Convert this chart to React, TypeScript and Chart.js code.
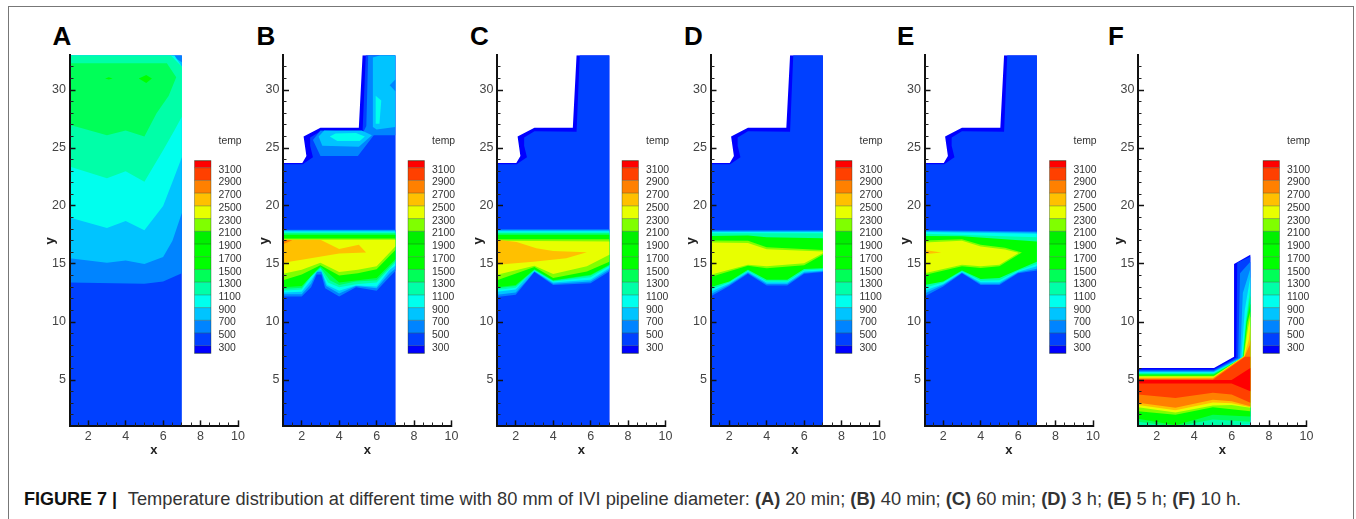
import React, { useEffect, useRef } from "react";
import { Chart, registerables } from "chart.js";

Chart.register(...registerables);

type P = number[][];

const FONT = '"Liberation Sans", Arial, sans-serif';

// Contour band colours, from the hottest (0) to the coolest (15)
const bandColors = ["#ff0000", "#ff4000", "#ff8000", "#ffc000", "#e8ff00", "#80ff00", "#00f000", "#00ff00", "#00ff00", "#00ff58", "#00ffa8", "#00ffee", "#00c4ff", "#0084ff", "#0040ff", "#0000ff"];
const legendLevels = [3100, 2900, 2700, 2500, 2300, 2100, 1900, 1700, 1500, 1300, 1100, 900, 700, 500, 300];
const panelLetters = ["A", "B", "C", "D", "E", "F"];
const xMajor = [2, 4, 6, 8, 10];
const xMinor = [1.5, 2.5, 3, 3.5, 4.5, 5, 5.5, 6.5, 7, 7.5, 8.5, 9, 9.5];
const yMajor = [5, 10, 15, 20, 25, 30];
const yMinor = [2, 3, 4, 6, 7, 8, 9, 11, 12, 13, 14, 16, 17, 18, 19, 21, 22, 23, 24, 26, 27, 28, 29, 31, 32];

const band = (top: P, bottom: P): P => [...top, ...bottom.slice().reverse()];
const flat = (a: number, b: number = a): P => [[1, a], [7, b]];

// Domain outlines
const fullDomain: P = [[1, 1], [7, 1], [7, 33], [1, 33]];
const stepOuter: P = [[1, 1], [7, 1], [7, 33], [5.25, 33], [5.05, 26.75], [3, 26.75], [2.1, 26], [2.25, 24.3], [2.03, 23.7], [1, 23.7]];
const stepInner: P = [[1, 1], [7, 1], [7, 33], [5.42, 33], [5.25, 26.4], [3, 26.45], [2.45, 25.9], [2.45, 25.2], [2.6, 24.2], [2.05, 23.6], [1, 23.6]];

// Panel A isotherms
const a14 = fullDomain;
const a13: P = [[1, 13.4], [5, 13.3], [6, 13.5], [7, 14.2], [7, 33], [1, 33]];
const a12: P = [[1, 15.5], [3, 15.1], [4, 15.3], [5, 15], [6, 15.6], [6.5, 17], [7, 19.4], [7, 32.4], [6.4, 33], [1, 33]];
const a11: P = [[1, 19], [3, 18.1], [4, 18.7], [5, 17.9], [6, 20], [6.6, 22.5], [7, 24.2], [7, 32], [6.6, 33], [1, 33]];
const a10: P = [[1, 23.4], [3, 22.4], [4, 23], [5, 22.1], [6, 24.8], [6.6, 26.5], [7, 27.7], [7, 32], [6.4, 33], [1, 33]];
const a9: P = [[1, 27], [3, 26.1], [4, 26.5], [5, 26], [5.65, 28], [6.3, 29.5], [6.7, 31.1], [6.2, 32.3], [1, 32.3]];
const a8a: P = [[4.7, 31], [5.1, 31.3], [5.4, 31], [5.1, 30.6]];
const a8b: P = [[2.9, 31], [3.1, 31.1], [3.3, 31], [3.1, 30.9]];

// Panel B upper chamber
const bBlob13: P = [[3, 24.3], [5, 24.3], [5.85, 26.1], [7, 26.1], [7, 33], [5.55, 33], [5.45, 26.9], [5.3, 26.4], [5, 26.4], [3, 26.5], [2.6, 25.7]];
const bBlob12: P = [[2.9, 26], [3.1, 25.2], [5.05, 25.1], [5.75, 26.1], [5.2, 26.5], [3.2, 26.5]];
const bCol12: P = [[5.8, 26.8], [6, 26.6], [7, 26.8], [7, 33], [6.2, 33], [5.8, 32.8]];
const bNotch13: P = [[7, 30.9], [6.7, 30.4], [7, 29.9]];
const bBlob11: P = [[3.5, 26], [3.9, 25.6], [5.1, 25.6], [5.37, 26], [4.9, 26.3], [3.8, 26.25]];
const bCol11: P = [[5.95, 29.5], [6.25, 29.1], [6.15, 27.1], [5.95, 27.1]];

// Panel B melt band
const b13 = band(flat(17.95), [[1, 12.2], [2, 12.2], [2.5, 13], [2.8, 14.1], [3.05, 14.1], [3.25, 12.9], [4, 12.2], [4.9, 13], [6, 12.7], [6.7, 13.9], [7, 14.4]]);
const b12 = band(flat(17.88), [[1, 12.4], [2, 12.4], [2.5, 13.3], [2.8, 14.3], [3.05, 14.3], [3.3, 13.1], [4, 12.45], [4.9, 13.1], [6, 12.9], [6.7, 14.2], [7, 14.6]]);
const b11 = band(flat(17.8), [[1, 12.55], [2, 12.6], [2.5, 13.6], [2.85, 14.45], [3.05, 14.45], [3.35, 13.2], [4, 12.7], [4.9, 13.15], [6, 13.05], [6.7, 14.5], [7, 14.85]]);
const b10 = band(flat(17.72), [[1, 12.7], [2, 12.8], [2.5, 13.9], [3, 14.6], [3.4, 13.4], [4, 13], [4.9, 13.25], [6, 13.4], [7, 15.1]]);
const b9 = band(flat(17.62), [[1, 12.85], [2, 12.95], [2.5, 14], [3, 14.7], [3.5, 13.6], [4, 13.2], [4.9, 13.5], [6, 13.6], [7, 15.25]]);
const b8 = band(flat(17.5), [[1, 13], [2, 13.1], [3, 14.8], [4, 13.4], [5, 13.6], [6, 13.8], [7, 15.4]]);
const b5 = band(flat(17.2), [[1, 13.6], [2, 14.1], [3, 14.9], [4, 14], [5, 14.2], [6, 14.55], [7, 16.2]]);
const b4 = band(flat(17.1), [[1, 14.15], [2, 14.5], [3, 15.1], [4, 14.3], [5, 14.5], [6, 14.8], [7, 16.5]]);
const b3: P = [[1, 17.1], [3, 17.1], [4, 16.3], [5.05, 16.65], [5.44, 16], [4, 15.9], [2, 15.36], [1, 15.1]];
const b2: P = [[1, 17.1], [1.5, 17.05], [1, 16.7]];

// Panel C melt band
const c13 = band(flat(18), [[1, 12.15], [2, 12.35], [3, 14.3], [4, 13.2], [6, 13.35], [7, 14.35]]);
const c12 = band(flat(17.9), [[1, 12.35], [2, 12.55], [2.6, 13.6], [3, 14.35], [4, 13.3], [6, 13.5], [7, 14.5]]);
const c11 = band(flat(17.82), [[1, 12.6], [2, 12.8], [2.7, 14], [3, 14.4], [4, 13.4], [6, 13.65], [7, 14.65]]);
const c10 = band(flat(17.72), [[1, 12.75], [2, 12.95], [3, 14.45], [4, 13.5], [6, 13.85], [7, 14.8]]);
const c9 = band(flat(17.62), [[1, 12.9], [2, 13.1], [3, 14.5], [4, 13.55], [6, 14], [7, 14.9]]);
const c8 = band(flat(17.5), [[1, 13], [2, 13.2], [3, 14.55], [4, 13.6], [6, 14.07], [7, 14.93]]);
const c5 = band(flat(17.14), [[1, 13.6], [3, 14.75], [4, 13.8], [5.8, 14.35], [7, 15.2]]);
const c4 = band(flat(17, 16.93), [[1, 14.07], [3, 14.84], [4, 14.13], [5.8, 14.8], [7, 15.8]]);
const c3: P = [[1, 17.1], [2.05, 16.9], [3.1, 16.36], [4, 16.13], [5.8, 16.02], [4.7, 15.5], [2.94, 15.2], [1, 14.93]];

// Panel D melt band
const d13 = band(flat(17.9), [[1, 12.2], [2, 13.1], [3, 14.15], [4, 13.15], [5.1, 13.15], [6, 14.15], [7, 14.3]]);
const d12 = band(flat(17.83), [[1, 12.4], [2, 13.22], [3, 14.25], [4, 13.27], [5.1, 13.27], [6, 14.25], [7, 14.38]]);
const d11 = band(flat(17.75), [[1, 12.6], [2, 13.32], [3, 14.33], [4, 13.4], [5.1, 13.4], [6, 14.35], [7, 14.45]]);
const d10 = band(flat(17.65), [[1, 12.8], [2, 13.4], [3, 14.4], [4, 13.5], [5.1, 13.5], [6, 14.45], [7, 14.55]]);
const d8 = band([[1, 17.42], [3, 17.45], [4, 17.3], [7, 17.23]], [[1, 13], [2, 13.5], [3, 14.5], [4, 13.64], [5.1, 13.64], [6, 14.56], [7, 14.63]]);
const d5 = band([[1, 17.02], [3, 17], [4, 16.45], [7, 16.2]], [[1, 13.87], [3, 14.85], [4, 14.63], [6, 14.9], [7, 15.8]]);
const d4 = band([[1, 16.85], [3, 16.8], [4, 16.28], [7, 16.07]], [[1, 14.07], [3, 14.93], [4, 14.8], [6, 15.07], [7, 15.93]]);

// Panel E melt band
const e13 = band(flat(17.9, 17.8), [[1, 12.2], [2, 13.06], [3, 14.2], [4, 13.2], [5, 13.2], [6, 14.2], [7, 14.44]]);
const e12 = band(flat(17.83, 17.72), [[1, 12.45], [2, 13.18], [3, 14.25], [4, 13.3], [5, 13.3], [6, 14.27], [7, 14.6]]);
const e11 = band(flat(17.75, 17.6), [[1, 12.7], [2, 13.28], [3, 14.3], [4, 13.42], [5, 13.42], [6, 14.33], [7, 14.8]]);
const e10 = band(flat(17.6, 17.3), [[1, 12.95], [2, 13.4], [3, 14.37], [4, 13.55], [5, 13.6], [6, 14.42], [7, 15]]);
const e8 = band([[1, 17.42], [3, 17.4], [7, 16.94]], [[1, 13.2], [2, 13.5], [3, 14.44], [4, 13.7], [5, 13.8], [6, 14.5], [7, 15.2]]);
const e5: P = [[1, 17.02], [3, 17.14], [4, 16.65], [5.3, 16.4], [6.2, 16], [6, 15.8], [5, 14.8], [4, 14.65], [3, 14.8], [1, 14.05]];
const e4: P = [[1, 16.85], [3, 17], [4, 16.5], [5.3, 16.25], [6, 15.98], [6, 15.93], [5, 14.93], [4, 14.8], [3, 14.93], [1, 14.2]];
const e3: P = [[1, 16.2], [1.9, 16], [1, 15.85]];

// Panel F
const fOuter: P = [[1, 1], [7, 1], [7, 15.8], [6.13, 15], [6.13, 7], [5.06, 6.04], [1, 6.04]];
const floor: P = [[1, 1], [7, 1]];
const f14 = band([[1, 5.9], [5.05, 5.9], [6.25, 6.95], [6.3, 15.1], [7, 15.65]], floor);
const f13 = band([[1, 5.82], [5.05, 5.82], [6.35, 6.9], [6.45, 14.2], [7, 15.2]], floor);
const f12 = band([[1, 5.74], [5.05, 5.74], [6.45, 6.9], [6.6, 12.5], [7, 14.6]], floor);
const f11 = band([[1, 5.66], [5.05, 5.66], [6.52, 6.9], [6.7, 11], [7, 13.9]], floor);
const f10 = band([[1, 5.6], [5.05, 5.6], [6.57, 6.9], [6.75, 10], [7, 13]], [[1, 1.15], [2.5, 1], [4.5, 1], [7, 1.2]]);
const f9 = band([[1, 5.52], [5.05, 5.52], [6.6, 6.95], [6.78, 10], [7, 12.3]], [[1, 1.4], [3, 1], [5, 1.6], [7, 1.4]]);
const f8 = band([[1, 5.45], [5.05, 5.45], [6.62, 6.95], [6.8, 10], [7, 11.6]], [[1, 1.65], [3, 1.1], [5, 2], [7, 1.85]]);
const f5 = band([[1, 5.37], [5.05, 5.37], [6.64, 7], [6.85, 10], [7, 10.9]], [[1, 2.3], [3, 2], [5, 2.65], [7, 2.3]]);
const f4 = band([[1, 5.3], [5.05, 5.3], [6.66, 7.05], [6.88, 9.5], [7, 10.5]], [[1, 2.65], [3, 2.2], [5, 2.8], [6, 2.85], [7, 2.6]]);
const f3 = band([[1, 5.22], [5.03, 5.22], [6.68, 7.05], [6.92, 8.5], [7, 9.7]], [[1, 2.85], [3, 2.4], [5, 3.05], [6, 3], [7, 2.65]]);
const f2 = band([[1, 5.13], [5, 5.13], [6.7, 7.05], [6.96, 8], [7, 8.5]], [[1, 3.03], [3, 2.6], [5, 3.3], [6, 3.17], [7, 2.73]]);
const f1 = band([[1, 5.03], [5, 5.03], [6.72, 7], [7, 7]], [[1, 3.74], [3, 3.45], [5, 3.9], [6, 3.74], [7, 3.03]]);
const f0: P = [[1, 5.03], [6, 5], [7, 6.04], [7, 4.03], [6, 4.7], [1, 4.7]];

// Each layer: [band index, polygon], painted in order
const panels: [number, P][][] = [
  [[14, a14], [13, a13], [12, a12], [11, a11], [10, a10], [9, a9], [8, a8a], [8, a8b]],
  [[15, stepOuter], [14, stepInner], [13, bBlob13], [12, bBlob12], [12, bCol12], [13, bNotch13], [11, bBlob11], [11, bCol11], [13, b13], [12, b12], [11, b11], [10, b10], [9, b9], [8, b8], [5, b5], [4, b4], [3, b3], [2, b2]],
  [[15, stepOuter], [14, stepInner], [13, c13], [12, c12], [11, c11], [10, c10], [9, c9], [8, c8], [5, c5], [4, c4], [3, c3]],
  [[15, stepOuter], [14, stepInner], [13, d13], [12, d12], [11, d11], [10, d10], [8, d8], [5, d5], [4, d4]],
  [[15, stepOuter], [14, stepInner], [13, e13], [12, e12], [11, e11], [10, e10], [8, e8], [5, e5], [4, e4], [3, e3]],
  [[15, fOuter], [14, f14], [13, f13], [12, f12], [11, f11], [10, f10], [9, f9], [8, f8], [5, f5], [4, f4], [3, f3], [2, f2], [1, f1], [0, f0]],
];

const panelLefts = [69.5, 283, 497, 710.5, 924.5, 1138];
const letterLefts = [52.5, 256.5, 470, 684, 897, 1108];

const legendPlugin = {
  id: "tempLegend",
  afterDraw(chart: any) {
    const { ctx, chartArea } = chart;
    const bx = chartArea.left + 125;
    const bw = 16.5;
    const top = 120.7;
    const step = 12.72;
    const first = 127.7;
    const ys = [top, ...legendLevels.map((_, i) => first + i * step), first + 14 * step + 7.5];
    ctx.save();
    bandColors.forEach((c, i) => {
      ctx.fillStyle = c;
      ctx.fillRect(bx, ys[i], bw, ys[i + 1] - ys[i]);
    });
    ctx.strokeStyle = "rgba(30,60,30,0.45)";
    ctx.lineWidth = 0.8;
    ys.forEach((y) => {
      ctx.beginPath();
      ctx.moveTo(bx, y);
      ctx.lineTo(bx + bw, y);
      ctx.stroke();
    });
    ctx.strokeRect(bx, ys[0], bw, ys[ys.length - 1] - ys[0]);
    ctx.fillStyle = "#333";
    ctx.font = `10.4px ${FONT}`;
    ctx.textBaseline = "middle";
    ctx.textAlign = "left";
    ctx.fillText("temp", bx + 24, 101);
    legendLevels.forEach((v, i) => ctx.fillText(String(v), bx + 24, first + 2.2 + i * step));
    ctx.restore();
  },
};

const setTicks = (values: number[]) => (scale: any) => {
  scale.ticks = values.map((value) => ({ value }));
};

const CANVAS_W = 220;
const CANVAS_H = 440;
const AREA_W = 168.5;

function Panel({ index }: { index: number }) {
  const ref = useRef<HTMLCanvasElement>(null);
  const canvasLeft = Math.floor(panelLefts[index]) - 40;
  const axisW = panelLefts[index] - canvasLeft;
  useEffect(() => {
    const chart = new Chart(ref.current!, {
      type: "scatter",
      data: {
        // Chart.js paints the first dataset last, so the coolest layer goes at the end
        datasets: panels[index].slice().reverse().map(([b, pts]) => ({
          data: pts.map(([x, y]) => ({ x, y })),
          showLine: true,
          fill: "shape",
          backgroundColor: bandColors[b],
          borderColor: bandColors[b],
          borderWidth: 0,
          pointRadius: 0,
          tension: 0,
        })),
      },
      plugins: [legendPlugin],
      options: {
        animation: false,
        responsive: false,
        layout: { padding: { top: 15.2, right: CANVAS_W - axisW - AREA_W, left: 0, bottom: 0 } },
        plugins: { legend: { display: false }, tooltip: { enabled: false } },
        scales: {
          x: {
            type: "linear",
            min: 1,
            max: 10,
            afterBuildTicks: setTicks(xMajor),
            afterFit: (s: any) => { s.height = 53.6; s.paddingLeft = 0; s.paddingRight = 0; },
            border: { color: "#111", width: 2, z: 1 },
            grid: { drawOnChartArea: false, tickLength: -6, tickColor: "#111", tickWidth: 1.5, z: 1 },
            ticks: { color: "#444", font: { family: FONT, size: 12.5 }, padding: 9, maxRotation: 0, autoSkip: false },
            title: { display: true, text: "x", color: "#222", font: { family: FONT, size: 13, weight: "bold" }, padding: { top: 0, bottom: 22 } },
          },
          y: {
            type: "linear",
            min: 1,
            max: 33,
            afterBuildTicks: setTicks(yMajor),
            afterFit: (s: any) => { s.width = axisW; s.paddingTop = 0; s.paddingBottom = 0; },
            border: { color: "#111", width: 2, z: 1 },
            grid: { drawOnChartArea: false, tickLength: -6, tickColor: "#111", tickWidth: 1.5, z: 1 },
            ticks: { color: "#444", font: { family: FONT, size: 12.5 }, padding: 9.5, autoSkip: false },
            title: { display: true, text: "y", color: "#222", font: { family: FONT, size: 13, weight: "bold" }, padding: { top: 14, bottom: 0 } },
          },
          xMinor: {
            type: "linear",
            axis: "x",
            position: { y: 1 },
            min: 1,
            max: 10,
            afterBuildTicks: setTicks(xMinor),
            afterFit: (s: any) => { s.height = 0; },
            border: { display: false },
            grid: { drawOnChartArea: false, tickLength: -3.5, tickColor: "#222", tickWidth: 1, z: 1 },
            ticks: { display: false, autoSkip: false },
          },
          yMinor: {
            type: "linear",
            axis: "y",
            position: { x: 1 },
            min: 1,
            max: 33,
            afterBuildTicks: setTicks(yMinor),
            afterFit: (s: any) => { s.width = 0; },
            border: { display: false },
            grid: { drawOnChartArea: false, tickLength: -3.5, tickColor: "#222", tickWidth: 1, z: 1 },
            ticks: { display: false, autoSkip: false },
          },
        },
      },
    } as any);
    return () => chart.destroy();
  }, [index]);
  return (
    <canvas
      ref={ref}
      width={CANVAS_W}
      height={CANVAS_H}
      style={{ position: "absolute", left: canvasLeft, top: 40, width: CANVAS_W, height: CANVAS_H }}
    />
  );
}

export default function App() {
  useEffect(() => {
    document.body.style.margin = "0";
    document.body.style.background = "#fff";
  }, []);
  return (
    <div style={{ position: "fixed", left: 0, top: 0, width: 1356, height: 519, overflow: "hidden", background: "#fff", filter: "blur(0.4px)" }}>
      <div style={{ position: "absolute", left: 7.5, top: 6, width: 1346.5, height: 600, border: "1.5px solid #777", boxSizing: "border-box" }} />
      {panelLetters.map((l, i) => (
        <div key={l} style={{ position: "absolute", left: letterLefts[i], top: 21, font: `bold 26px ${FONT}`, lineHeight: "30px", color: "#000" }}>{l}</div>
      ))}
      {panelLetters.map((l, i) => <Panel key={l} index={i} />)}
      <div style={{ position: "absolute", left: 24, top: 489, whiteSpace: "nowrap", font: `18.27px ${FONT}`, lineHeight: "20px", color: "#333" }}>
        <b style={{ fontSize: 18, color: "#111", marginRight: 6 }}>FIGURE 7 |</b> Temperature distribution at different time with 80 mm of IVI pipeline diameter: <b>(A)</b> 20 min; <b>(B)</b> 40 min; <b>(C)</b> 60 min; <b>(D)</b> 3 h; <b>(E)</b> 5 h; <b>(F)</b> 10 h.
      </div>
    </div>
  );
}
